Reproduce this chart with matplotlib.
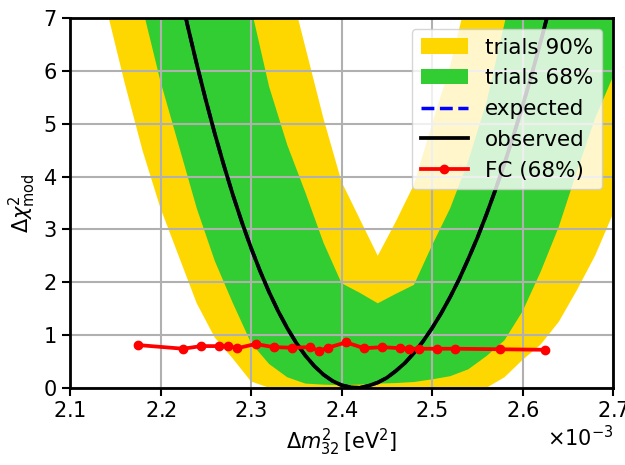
import numpy as np
import matplotlib
matplotlib.use('Agg')
import matplotlib.pyplot as plt

# Delta m^2_32 grid for the trial bands (units of 1e-3 eV^2)
band_dm2 = [2.10, 2.12, 2.14, 2.16, 2.18, 2.20, 2.22, 2.24, 2.26, 2.28, 2.30,
            2.32, 2.34, 2.36, 2.38, 2.40, 2.42, 2.44, 2.46, 2.48, 2.50, 2.52,
            2.54, 2.56, 2.58, 2.60, 2.62, 2.64, 2.66, 2.68, 2.70]

# 90% band
lo90 = [10.5, 8.8, 7.2, 5.8, 4.5, 3.4, 2.5, 1.6, 0.95, 0.55, 0.12,
        0, 0, 0, 0, 0, 0, 0, 0, 0, 0, 0,
        0, 0, 0.2, 0.53, 0.82, 1.25, 1.85, 2.5, 3.3]
hi90 = [12, 12, 12, 12, 12, 12, 12, 12, 12, 12, 12,
        9.2, 7.8, 6.45, 5.1, 3.9, 3.2, 2.5, 3.15, 3.85, 5.0, 6.1,
        7.5, 9.0, 12, 12, 12, 12, 12, 12, 12]

# 68% band
lo68 = [12, 12, 10.5, 8.8, 7.2, 5.8, 4.6, 3.4, 2.4, 1.6, 0.85,
        0.45, 0.2, 0.08, 0.06, 0.05, 0.06, 0.08, 0.09, 0.11, 0.16, 0.22,
        0.35, 0.6, 0.9, 1.45, 2.2, 3.05, 4.1, 5.1, 5.9]
hi68 = [12, 12, 12, 12, 12, 12, 12, 12, 12, 8.8, 7.2,
        5.7, 4.6, 3.7, 2.75, 1.98, 1.8, 1.6, 1.78, 1.95, 2.7, 3.4,
        4.3, 5.4, 6.9, 8.5, 12, 12, 12, 12, 12]

# observed / expected delta chi2 scan
scan_dm2 = [2.20, 2.21, 2.22, 2.23, 2.24, 2.25, 2.26, 2.27, 2.28, 2.29, 2.30,
            2.31, 2.32, 2.33, 2.34, 2.35, 2.36, 2.37, 2.38, 2.39, 2.40, 2.41,
            2.42, 2.43, 2.44, 2.45, 2.46, 2.47, 2.48, 2.49, 2.50, 2.51, 2.52,
            2.53, 2.54, 2.55, 2.56, 2.57, 2.58, 2.59, 2.60, 2.61, 2.62, 2.63,
            2.64]
chi2_obs = [9.25, 8.41, 7.61, 6.85, 6.13, 5.45, 4.81, 4.21, 3.65, 3.13, 2.65,
            2.21, 1.81, 1.45, 1.13, 0.85, 0.61, 0.41, 0.25, 0.13, 0.05, 0.01,
            0.00, 0.04, 0.10, 0.19, 0.32, 0.47, 0.66, 0.88, 1.13, 1.41, 1.72,
            2.06, 2.44, 2.84, 3.28, 3.75, 4.25, 4.78, 5.34, 5.93, 6.56, 7.21,
            7.90]
chi2_exp = chi2_obs

# Feldman-Cousins 68% critical values
fc_dm2 = [2.175, 2.225, 2.245, 2.265, 2.275, 2.285, 2.305, 2.325, 2.345,
          2.365, 2.375, 2.385, 2.405, 2.425, 2.445, 2.465, 2.475, 2.485,
          2.505, 2.525, 2.575, 2.625]
fc_crit = [0.81, 0.74, 0.79, 0.79, 0.79, 0.75, 0.83, 0.77, 0.76,
           0.77, 0.70, 0.76, 0.86, 0.75, 0.77, 0.75, 0.74, 0.74,
           0.74, 0.74, 0.73, 0.72]

scale = 1e-3
bx = np.array(band_dm2) * scale
sx = np.array(scan_dm2) * scale
fx = np.array(fc_dm2) * scale

fig = plt.figure(figsize=(6.25, 4.65), dpi=100)
ax = fig.add_axes([0.112, 0.166, 0.869, 0.795])

ax.fill_between(bx, lo90, hi90, color='gold', lw=0, label='trials 90%')
ax.fill_between(bx, lo68, hi68, color='limegreen', lw=0, label='trials 68%')
ax.plot(sx, chi2_exp, color='blue', ls='--', lw=2.5, label='expected')
ax.plot(sx, chi2_obs, color='black', lw=2.7, label='observed')
ax.plot(fx, fc_crit, color='red', lw=2.7, marker='o', ms=6, label='FC (68%)')

ax.set_xlim(2.1e-3, 2.7e-3)
ax.set_ylim(0, 7)
ax.set_xticks(np.arange(2.1, 2.71, 0.1) * scale)
ax.set_yticks(range(8))
ax.ticklabel_format(axis='x', style='sci', scilimits=(0, 0), useMathText=True)
ax.xaxis.get_offset_text().set_fontsize(15)
ax.tick_params(labelsize=15, width=1.5, length=6)
for s in ax.spines.values():
    s.set_linewidth(2)
ax.grid(True, color='#b0b0b0', lw=1.5)

ax.set_xlabel(r'$\Delta m^2_{32}\,[\mathrm{eV}^2]$', fontsize=15)
ax.set_ylabel(r'$\Delta\chi^2_{\mathrm{mod}}$', fontsize=15)
ax.legend(loc='upper right', fontsize=15.5, handlelength=2.2)

fig.savefig('out.png', dpi=100)
